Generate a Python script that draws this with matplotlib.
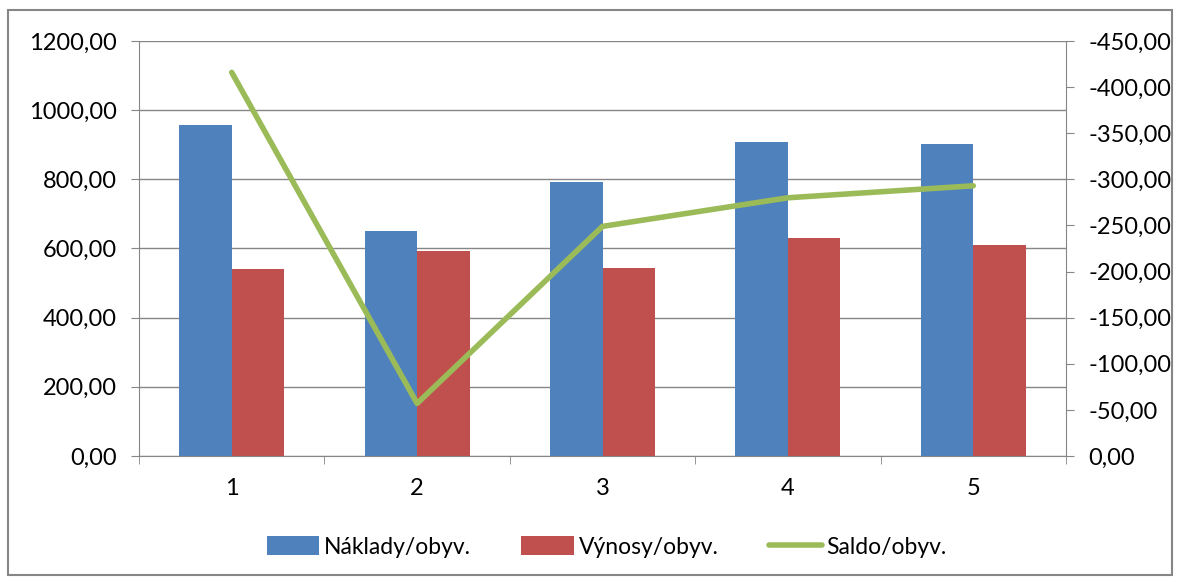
import numpy as np
import matplotlib.pyplot as plt
from matplotlib.patches import Rectangle
from matplotlib.ticker import FuncFormatter, MultipleLocator

plt.rcParams['font.family'] = ['Lato', 'DejaVu Sans']

kategorie = ['1', '2', '3', '4', '5']
naklady = [957, 650, 792, 908, 902]
vynosy = [541, 593, 544, 630, 610]
saldo = [-416, -57, -249, -280, -293]

modra = '#4F81BD'
cervena = '#C0504D'
zelena = '#9BBB59'
seda = '#868686'
fsize = 17

fig = plt.figure(figsize=(11.78, 5.79), dpi=100)
ax = fig.add_axes([139 / 1178, 1 - 456 / 579, (1066 - 139) / 1178, (456 - 41) / 579])
ax2 = ax.twinx()

x = np.arange(len(kategorie))
w = 0.283
ax.bar(x - w / 2, naklady, w, color=modra, label='Náklady/obyv.', zorder=2)
ax.bar(x + w / 2, vynosy, w, color=cervena, label='Výnosy/obyv.', zorder=2)
ax2.plot(x, saldo, color=zelena, lw=4, label='Saldo/obyv.', solid_capstyle='round')

ax.set_xlim(-0.5, 4.5)
ax.set_ylim(0, 1200)
ax2.set_ylim(0, -450)

fmt = FuncFormatter(lambda v, p: ('%.2f' % v).replace('.', ','))
ax.yaxis.set_major_locator(MultipleLocator(200))
ax.yaxis.set_major_formatter(fmt)
ax2.yaxis.set_major_locator(MultipleLocator(50))
ax2.yaxis.set_major_formatter(fmt)

ax.set_xticks(x)
ax.set_xticklabels(kategorie)
ax.set_xticks(np.arange(-0.5, 5, 1), minor=True)
ax.tick_params(axis='x', which='major', length=0, pad=16, labelsize=fsize)
ax.tick_params(axis='x', which='minor', length=6, color=seda, direction='out')
ax.tick_params(axis='y', length=6, color=seda, labelsize=fsize, pad=10)
ax2.tick_params(axis='y', length=6, color=seda, labelsize=fsize, pad=10)

ax.grid(axis='y', color=seda, lw=1, zorder=0)
ax.set_axisbelow(True)
ax.spines['top'].set_visible(False)
ax2.spines['top'].set_visible(False)
ax.spines['left'].set_color(seda)
ax.spines['bottom'].set_color(seda)
ax.spines['right'].set_visible(False)
ax2.spines['right'].set_color(seda)
ax2.spines['left'].set_visible(False)
ax2.spines['bottom'].set_visible(False)

h1, l1 = ax.get_legend_handles_labels()
h2, l2 = ax2.get_legend_handles_labels()
fig.legend(h1 + h2, l1 + l2, loc='center', bbox_to_anchor=(0.515, 1 - 547 / 579),
           ncol=3, frameon=False, fontsize=16.5, handlelength=2.3,
           handleheight=0.9, columnspacing=2.2, handletextpad=0.2)

fig.patches.append(Rectangle((8 / 1178, 1 - 575 / 579), 1164 / 1178, 565 / 579,
                             transform=fig.transFigure, fill=False,
                             edgecolor=seda, lw=1.5))

fig.savefig('out.png', dpi=100)
